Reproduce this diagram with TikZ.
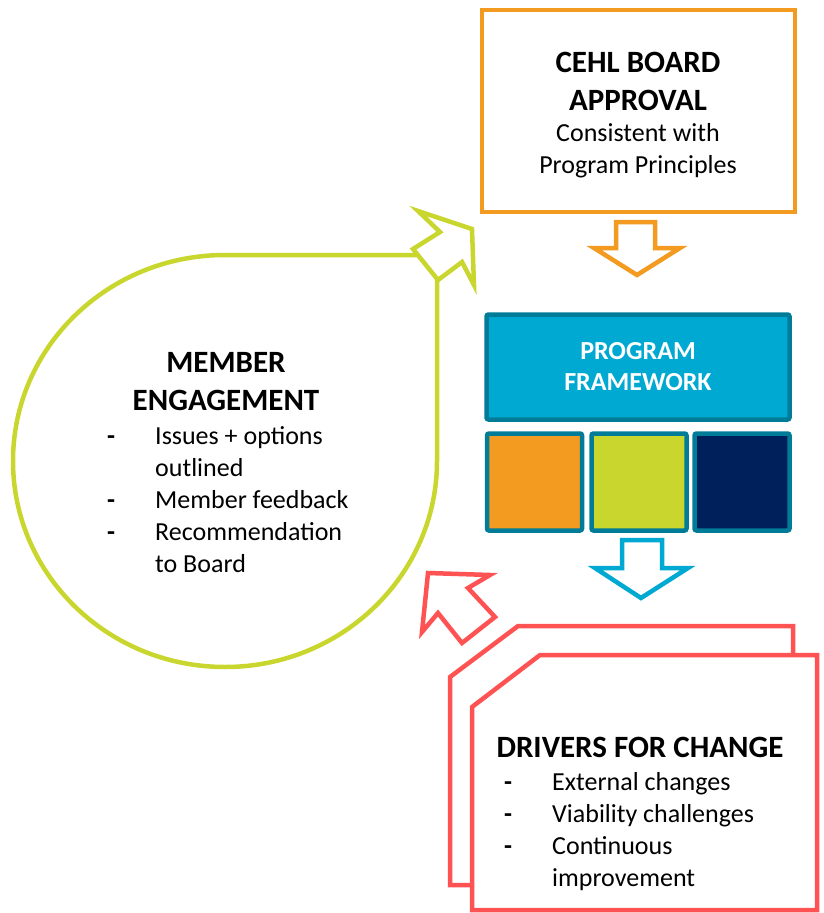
\documentclass[tikz,border=0pt]{standalone}
\usepackage{fontspec}
\setmainfont{Carlito}
\definecolor{cehlorange}{HTML}{F39A21}
\definecolor{cehllime}{HTML}{C9D62D}
\definecolor{cehlred}{HTML}{FF5353}
\definecolor{cehlcyan}{HTML}{00A9D2}
\definecolor{cehlteal}{HTML}{007C98}
\definecolor{cehlnavy}{HTML}{00205B}
\begin{document}
\begin{tikzpicture}[x=1pt,y=-1pt,
  heading/.style={font=\fontsize{31}{38}\selectfont\bfseries,align=center,inner sep=0},
  body/.style={font=\fontsize{26}{32}\selectfont,inner sep=0},
  tile/.style={draw=cehlteal,line width=4.5pt,rounded corners=2pt,minimum width=95pt,minimum height=97pt},
  blockarrow/.style={line width=4.5pt,line join=miter,fill=white}]
\useasboundingbox (0,0) rectangle (823,913);

% board
\node[draw=cehlorange,line width=4.5pt,minimum width=313pt,minimum height=202pt] (board) at (638.5,111) {};
\node[heading] (boardtitle) at (638,81) {CEHL BOARD\\APPROVAL};
\node[body,align=center] (boardtext) at (638,151) {Consistent with\\Program Principles};
\draw[blockarrow,draw=cehlorange] (616,222) -- (655,222) -- (655,248) -- (680,248) -- (637,275) -- (594,248) -- (616,248) -- cycle;

% framework
\node[tile,fill=cehlcyan,minimum width=303pt,minimum height=105pt,text=white,
  font=\fontsize{26}{31}\selectfont\bfseries,align=center] (framework) at (638,367) {PROGRAM\\FRAMEWORK};
\node[tile,fill=cehlorange] (tileA) at (534.5,482) {};
\node[tile,fill=cehllime] (tileB) at (639,482) {};
\node[tile,fill=cehlnavy] (tileC) at (742,482) {};
\draw[blockarrow,draw=cehlcyan] (622,540) -- (662,540) -- (662,568) -- (688,568) -- (641,598) -- (595,568) -- (622,568) -- cycle;

% member engagement
\draw[cehllime,line width=4.5pt] (437,461) -- (437,255) -- (225,255)
  arc[start angle=90,end angle=360,x radius=212pt,y radius=206pt] -- cycle;
\draw[blockarrow,draw=cehllime] (413,249) -- (440,232) -- (418,211) -- (472,229) -- (474,285) -- (462,262) -- (438,280) -- cycle;
\node[heading] (membertitle) at (226,382) {MEMBER\\ENGAGEMENT};
\node[body,anchor=base west] (memberlist) at (107,444) {\begin{tabular}[t]{@{}p{48pt}@{}l@{}}
\textbf{-} & Issues + options\\
  & outlined\\
\textbf{-} & Member feedback\\
\textbf{-} & Recommendation\\
  & to Board
\end{tabular}};

% drivers
\draw[blockarrow,draw=cehlred] (428,573) -- (490,575) -- (468,588) -- (495,617) -- (462,643) -- (438,613) -- (422,632) -- cycle;
\draw[cehlred,line width=4.5pt,line join=miter] (472,885) -- (450,885) -- (450,677) -- (518,626) -- (793,626) -- (793,655);
\draw[blockarrow,draw=cehlred] (472,707) -- (540,655) -- (817,655) -- (817,910) -- (472,910) -- cycle;
\node[heading] (driverstitle) at (640,747) {DRIVERS FOR CHANGE};
\node[body,anchor=base west] (driverslist) at (504,790) {\begin{tabular}[t]{@{}p{48pt}@{}l@{}}
\textbf{-} & External changes\\
\textbf{-} & Viability challenges\\
\textbf{-} & Continuous\\
  & improvement
\end{tabular}};
\end{tikzpicture}
\end{document}
